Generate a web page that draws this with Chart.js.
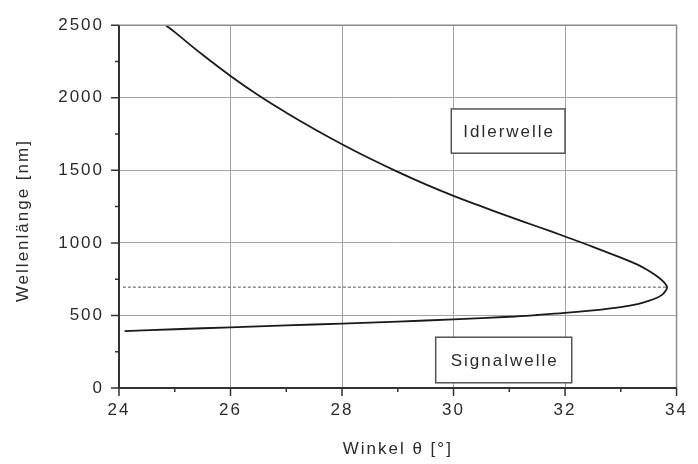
<!DOCTYPE html>
<html>
<head>
<meta charset="utf-8">
<script src="https://cdn.jsdelivr.net/npm/chart.js@4.4.1/dist/chart.umd.min.js"></script>
<style>
  html, body { margin: 0; padding: 0; background: #fff; }
</style>
</head>
<body>
<canvas id="chart" width="698" height="464"></canvas>
<script>
// idler branch, from the top edge down to the turning point
const idlerAngle = [24.84, 25.0, 25.5, 26.0, 26.5, 27.0, 27.5, 28.0, 28.5, 29.0, 29.5, 30.0,
  30.5, 31.0, 31.5, 32.0, 32.5, 33.0, 33.3, 33.5, 33.65, 33.75, 33.8, 33.83];
const idlerNm = [2500, 2452, 2296, 2150, 2017, 1897, 1785, 1680, 1581, 1489, 1403, 1324,
  1251, 1181, 1113, 1044, 973, 898, 850, 808, 770, 738, 716, 695];

// signal branch, left to right up to the turning point
const signalAngle = [24.1, 25, 26, 27, 28, 29, 30, 31, 31.5, 32, 32.5, 33, 33.3, 33.5, 33.65, 33.75, 33.8];
const signalNm = [392, 405, 418, 431, 444, 458, 473, 491, 503, 517, 535, 558, 578, 600, 622, 645, 668];

// degenerate wavelength (dotted guide)
const degenerateNm = 695;
const degenerateFrom = 24.07;

const xTitle = "Winkel θ [°]";
const yTitle = "Wellenlänge [nm]";
const boxLabels = ["Idlerwelle", "Signalwelle"];

const FONT = '"Liberation Sans", Arial, sans-serif';
const INK = "#2b2b2b";

// label boxes in data units
const boxes = [
  { text: boxLabels[0], x0: 29.96, x1: 32.0, y0: 1923, y1: 1618 },
  { text: boxLabels[1], x0: 29.68, x1: 32.12, y0: 350, y1: 36 },
];

const curve = idlerAngle.map((x, i) => ({ x, y: idlerNm[i] }));
for (let i = signalAngle.length - 1; i >= 0; i--) {
  curve.push({ x: signalAngle[i], y: signalNm[i] });
}

const framePlugin = {
  id: "frame",
  beforeDraw(chart) {
    chart.ctx.letterSpacing = "2px";
  },
  afterDraw(chart) {
    const { ctx, chartArea: a, scales: { x, y } } = chart;
    ctx.save();
    ctx.letterSpacing = "2px";

    // top and right border
    ctx.strokeStyle = "#8c8c8c";
    ctx.lineWidth = 1.5;
    ctx.beginPath();
    ctx.moveTo(a.left, a.top);
    ctx.lineTo(a.right, a.top);
    ctx.lineTo(a.right, a.bottom);
    ctx.stroke();

    // left and bottom axis
    ctx.strokeStyle = "#333";
    ctx.lineWidth = 2;
    ctx.beginPath();
    ctx.moveTo(a.left, a.top);
    ctx.lineTo(a.left, a.bottom);
    ctx.lineTo(a.right, a.bottom);
    ctx.stroke();

    // major + minor ticks, pointing outward
    ctx.lineWidth = 1.5;
    ctx.beginPath();
    const yv = y.ticks.map(t => t.value);
    yv.forEach((v, i) => {
      const py = y.getPixelForValue(v);
      ctx.moveTo(a.left - 8, py); ctx.lineTo(a.left, py);
      if (i < yv.length - 1) {
        const pm = y.getPixelForValue((v + yv[i + 1]) / 2);
        ctx.moveTo(a.left - 4, pm); ctx.lineTo(a.left, pm);
      }
    });
    const xv = x.ticks.map(t => t.value);
    xv.forEach((v, i) => {
      const px = x.getPixelForValue(v);
      ctx.moveTo(px, a.bottom); ctx.lineTo(px, a.bottom + 8);
      if (i < xv.length - 1) {
        const pm = x.getPixelForValue((v + xv[i + 1]) / 2);
        ctx.moveTo(pm, a.bottom); ctx.lineTo(pm, a.bottom + 4);
      }
    });
    ctx.stroke();

    // label boxes
    ctx.font = `17px ${FONT}`;
    ctx.textAlign = "center";
    ctx.textBaseline = "middle";
    boxes.forEach(b => {
      const l = x.getPixelForValue(b.x0), r = x.getPixelForValue(b.x1);
      const t = y.getPixelForValue(b.y0), btm = y.getPixelForValue(b.y1);
      ctx.fillStyle = "#fff";
      ctx.fillRect(l, t, r - l, btm - t);
      ctx.strokeStyle = "#555";
      ctx.lineWidth = 1.5;
      ctx.strokeRect(l, t, r - l, btm - t);
      ctx.fillStyle = INK;
      ctx.fillText(b.text, (l + r) / 2 + 1, (t + btm) / 2 + 1);
    });

    // axis titles
    ctx.font = `17px ${FONT}`;
    ctx.fillStyle = INK;
    ctx.fillText(xTitle, (a.left + a.right) / 2, 449);
    ctx.translate(23, (a.top + a.bottom) / 2 + 14);
    ctx.rotate(-Math.PI / 2);
    ctx.fillText(yTitle, 0, 0);
    ctx.restore();
  },
};

const tickFont = { family: FONT, size: 17 };

new Chart(document.getElementById("chart"), {
  type: "scatter",
  data: {
    datasets: [
      {
        data: curve,
        showLine: true,
        borderColor: "#1a1a1a",
        borderWidth: 1.8,
        pointRadius: 0,
        tension: 0.4,
      },
      {
        data: [{ x: degenerateFrom, y: degenerateNm }, { x: idlerAngle[idlerAngle.length - 1], y: degenerateNm }],
        showLine: true,
        borderColor: "#555",
        borderWidth: 1,
        borderDash: [3, 2],
        pointRadius: 0,
      },
    ],
  },
  options: {
    responsive: false,
    animation: false,
    devicePixelRatio: 1,
    layout: { padding: { top: 20, right: 10, left: 0, bottom: 0 } },
    plugins: { legend: { display: false }, tooltip: { enabled: false } },
    scales: {
      x: {
        min: 24, max: 34,
        ticks: { stepSize: 2, padding: 12, color: INK, font: tickFont, callback: v => String(v) },
        grid: { color: "#a3a3a3", lineWidth: 1, drawTicks: false },
        border: { display: false },
        afterFit: s => { s.height = 76; },
      },
      y: {
        min: 0, max: 2500,
        ticks: { stepSize: 500, padding: 15, color: INK, font: tickFont, callback: v => String(v) },
        grid: { color: "#a3a3a3", lineWidth: 1, drawTicks: false },
        border: { display: false },
        afterFit: s => { s.width = 119; },
      },
    },
  },
  plugins: [framePlugin],
});
</script>
</body>
</html>
